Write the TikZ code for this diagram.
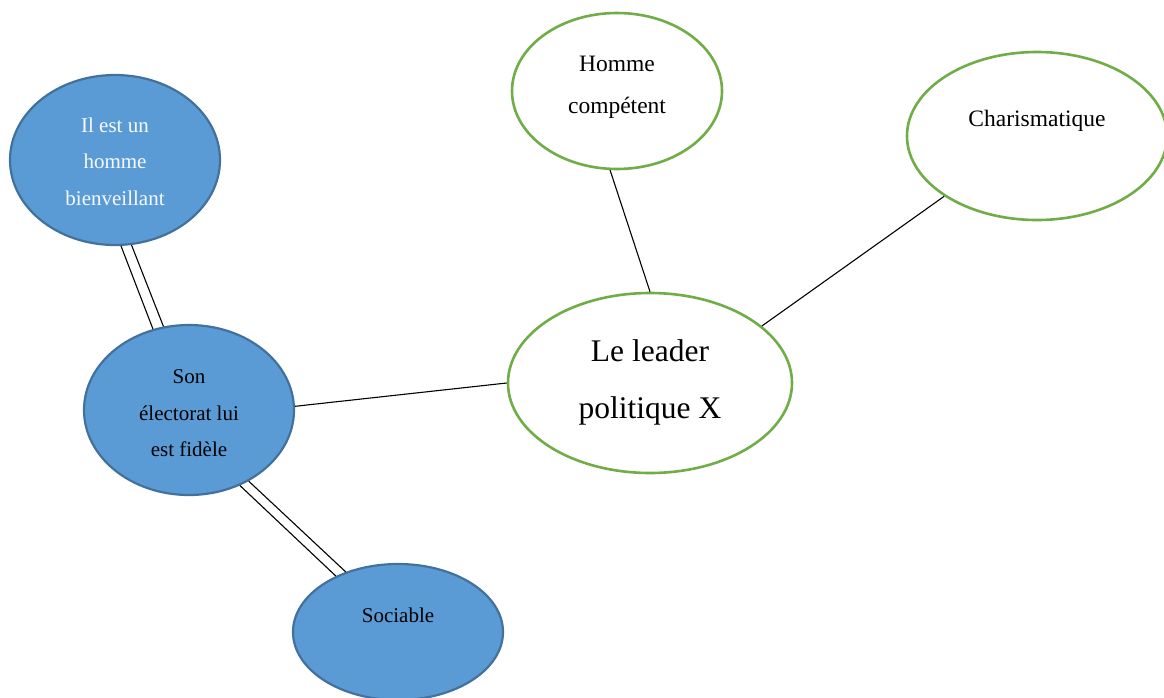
\documentclass[tikz,border=0pt]{standalone}
\usepackage{fontspec}
\setmainfont{Liberation Serif}
\usetikzlibrary{shapes.geometric}
\definecolor{bfill}{HTML}{5B9BD5}
\definecolor{bdraw}{HTML}{41719C}
\definecolor{gdraw}{HTML}{70AD47}
\tikzset{
  bluenode/.style={ellipse, draw=bdraw, fill=bfill, line width=2.2pt, inner sep=0pt, align=center, font=\fontsize{21}{36.5}\selectfont},
  greennode/.style={ellipse, draw=gdraw, fill=white, line width=2.6pt, inner sep=0pt, align=center},
  link/.style={draw=black, line width=1.1pt}
}
\begin{document}
\begin{tikzpicture}[x=1pt,y=-1pt]
\useasboundingbox (0,0) rectangle (1164,697);
\clip (0,0) rectangle (1164,697);
\fill[white] (0,0) rectangle (1164,697);
% nodes
\node[bluenode, minimum width=210pt, minimum height=170pt, text=white!95!bfill] (il) at (115,160) {\rule{0pt}{18pt}Il est un\\homme\\bienveillant};
\node[bluenode, minimum width=210pt, minimum height=170pt] (son) at (189,410) {\rule{0pt}{21pt}Son\\électorat lui\\est fidèle};
\node[bluenode, minimum width=210pt, minimum height=136pt] (soc) at (398,632) {Sociable\rule[-34pt]{0pt}{0pt}};
\node[greennode, minimum width=284pt, minimum height=180pt, font=\fontsize{31.5}{57}\selectfont] (lead) at (650,383) {Le leader\\politique X\rule[-8pt]{0pt}{0pt}};
\node[greennode, minimum width=210pt, minimum height=156pt, font=\fontsize{23.5}{42}\selectfont] (hom) at (617,91) {Homme\\compétent\rule[-13pt]{0pt}{0pt}};
\node[greennode, minimum width=260pt, minimum height=168pt, font=\fontsize{23.5}{40}\selectfont] (cha) at (1037,136) {Charismatique\rule[-35pt]{0pt}{0pt}};
% connectors
\draw[link] (il.-86.4) -- (son.114.2);
\draw[link] (il.-79.8) -- (son.107.8);
\draw[link] (son.-56.5) -- (soc.138.6);
\draw[link] (son.-50.2) -- (soc.131.9);
\draw[link] (son.2.2) -- (lead.180.4);
\draw[link] (hom.265.6) -- (lead.90.6);
\draw[link] (cha.213.5) -- (lead.27);
\end{tikzpicture}
\end{document}
